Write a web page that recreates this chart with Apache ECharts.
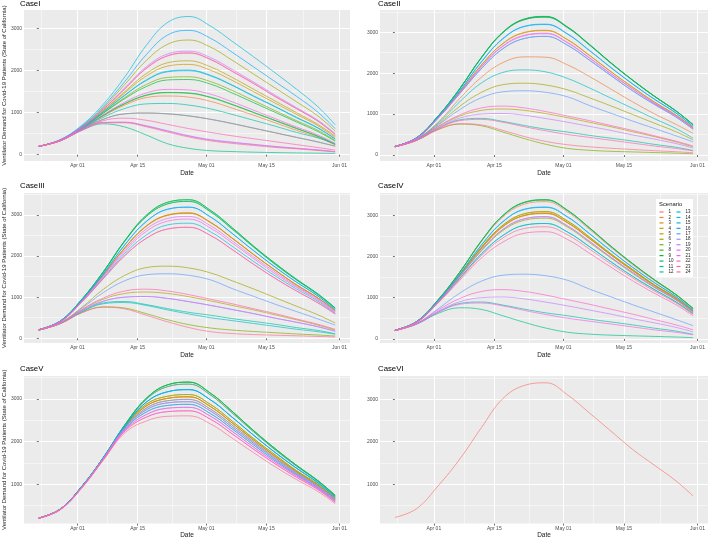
<!DOCTYPE html>
<html>
<head>
<meta charset="utf-8">
<script src="https://cdn.jsdelivr.net/npm/echarts@6/dist/echarts.min.js"></script>
<style>
  html, body { margin: 0; padding: 0; background: #fff; }
  #main { width: 709px; height: 540px; }
</style>
</head>
<body>
<div id="main"></div>
<script>
// sample dates (every 5 days)
const dates = ['2020-03-23', '2020-03-28', '2020-04-02', '2020-04-07', '2020-04-12', '2020-04-17', '2020-04-22',
  '2020-04-27', '2020-05-02', '2020-05-07', '2020-05-12', '2020-05-17', '2020-05-22', '2020-05-27', '2020-05-31']
const caseNames = ['CaseI', 'CaseII', 'CaseIII', 'CaseIV', 'CaseV', 'CaseVI']
const scenarios = ['1', '2', '3', '4', '5', '6', '7', '8', '9', '10', '11', '12',
  '13', '14', '15', '16', '17', '18', '19', '20', '21', '22', '23', '24']
const xTickDates = ['2020-04-01', '2020-04-15', '2020-05-01', '2020-05-15', '2020-06-01']
const xTickLabels = ['Apr 01', 'Apr 15', 'May 01', 'May 15', 'Jun 01']
const xMinorDates = ['2020-03-23T12:00', '2020-04-08', '2020-04-23', '2020-05-08', '2020-05-23T12:00']
const yTicks = [0, 1000, 2000, 3000]
const yMinorTicks = [500, 1500, 2500, 3500]
const yMin = [-150, -147, -115, -100, 80, 70]
const yMax = [3445, 3545, 3535, 3540, 3533, 3550]

// curves shared by cases II - IV (peak value in the name)
const hi3389 = [210, 421, 952, 1624, 2386, 3008, 3328, 3389, 3128, 2707, 2256, 1835, 1444, 1083, 742]
const hi3380 = [210, 420, 950, 1620, 2380, 3000, 3320, 3380, 3120, 2700, 2250, 1830, 1440, 1080, 740]
const hi3370 = [210, 420, 948, 1617, 2374, 2990, 3310, 3370, 3110, 2692, 2243, 1825, 1436, 1077, 738]
const hi3330 = [210, 420, 945, 1610, 2360, 2960, 3270, 3330, 3075, 2660, 2220, 1800, 1420, 1065, 730]
const hi3200 = [210, 415, 930, 1570, 2280, 2850, 3150, 3200, 2960, 2560, 2140, 1740, 1370, 1030, 700]
const hi3190 = [210, 415, 928, 1567, 2272, 2840, 3140, 3190, 2950, 2552, 2133, 1734, 1366, 1027, 697]
const hi3088 = [210, 412, 924, 1548, 2224, 2760, 3038, 3088, 2858, 2471, 2063, 1684, 1316, 997, 678]
const hi3050 = [210, 410, 920, 1540, 2200, 2730, 3000, 3050, 2820, 2440, 2040, 1660, 1300, 980, 670]
const hi3040 = [210, 410, 918, 1537, 2195, 2722, 2990, 3040, 2811, 2433, 2034, 1655, 1296, 977, 668]
const hi2980 = [210, 410, 910, 1520, 2160, 2670, 2930, 2980, 2750, 2380, 1990, 1620, 1270, 960, 650]
const hi2965 = [210, 409, 908, 1516, 2152, 2657, 2915, 2965, 2737, 2369, 1980, 1612, 1264, 955, 647]
const hi2930 = [205, 408, 905, 1510, 2130, 2630, 2880, 2930, 2710, 2340, 1960, 1590, 1250, 945, 640]
const hi2900 = [205, 405, 900, 1500, 2110, 2600, 2850, 2900, 2680, 2320, 1940, 1570, 1240, 930, 630]
const hi2800 = [205, 400, 890, 1470, 2060, 2510, 2760, 2800, 2590, 2240, 1870, 1520, 1200, 900, 610]
const hi2720 = [205, 400, 882, 1455, 2020, 2450, 2680, 2720, 2520, 2180, 1820, 1480, 1165, 875, 595]
const hi2700 = [205, 400, 880, 1450, 2010, 2430, 2660, 2700, 2500, 2160, 1800, 1460, 1150, 860, 590]
const hi2600 = [200, 395, 870, 1420, 1960, 2350, 2565, 2600, 2410, 2080, 1740, 1410, 1110, 830, 560]
const md2400 = [205, 390, 800, 1380, 1900, 2260, 2400, 2390, 2200, 1920, 1610, 1300, 1010, 750, 530]
const md2080 = [205, 385, 780, 1300, 1760, 2020, 2080, 2030, 1870, 1640, 1390, 1140, 890, 650, 410]
const md1750 = [205, 380, 750, 1190, 1530, 1720, 1755, 1710, 1590, 1400, 1200, 990, 780, 570, 370]
const md1570 = [205, 375, 730, 1110, 1400, 1545, 1570, 1530, 1420, 1210, 1020, 830, 650, 470, 320]
const lo1200 = [200, 370, 700, 980, 1150, 1195, 1150, 1060, 950, 840, 720, 600, 470, 340, 220]
const lo1125 = [200, 370, 690, 950, 1090, 1125, 1090, 1010, 910, 800, 690, 570, 450, 320, 200]
const lo1020 = [200, 365, 670, 900, 1000, 1015, 970, 890, 800, 700, 600, 490, 390, 280, 170]
const lo900 = [200, 360, 650, 860, 895, 820, 720, 630, 560, 480, 410, 340, 260, 190, 110]
const lo870 = [200, 360, 645, 840, 870, 800, 690, 590, 500, 430, 360, 290, 220, 160, 100]
const lo765 = [200, 355, 625, 765, 735, 600, 450, 330, 250, 200, 165, 135, 105, 80, 55]
const lo760 = [200, 355, 620, 755, 715, 560, 400, 260, 160, 115, 90, 75, 60, 45, 30]

// case V curves (bunch together until mid April)
const v3389 = [210, 421, 952, 1624, 2386, 3008, 3328, 3389, 3128, 2707, 2256, 1835, 1444, 1083, 742]
const v3343 = [210, 420, 950, 1620, 2378, 2985, 3285, 3343, 3086, 2670, 2228, 1808, 1425, 1069, 725]
const v3214 = [210, 418, 946, 1617, 2360, 2920, 3165, 3214, 2972, 2570, 2148, 1746, 1376, 1034, 703]
const v3099 = [210, 417, 943, 1613, 2345, 2870, 3060, 3099, 2865, 2480, 2070, 1690, 1320, 1000, 680]
const v3046 = [210, 416, 940, 1610, 2335, 2830, 3010, 3046, 2815, 2435, 2035, 1655, 1298, 978, 668]
const v2985 = [208, 415, 938, 1605, 2320, 2780, 2955, 2985, 2755, 2385, 1995, 1620, 1272, 960, 652]
const v2931 = [208, 415, 935, 1600, 2310, 2740, 2905, 2931, 2710, 2340, 1960, 1590, 1250, 945, 640]
const v2870 = [208, 412, 930, 1595, 2290, 2690, 2845, 2870, 2650, 2295, 1920, 1555, 1225, 920, 620]
const v2800 = [205, 410, 925, 1585, 2265, 2630, 2780, 2800, 2590, 2240, 1870, 1520, 1200, 900, 600]
const v2718 = [205, 410, 920, 1575, 2240, 2570, 2700, 2718, 2520, 2180, 1820, 1480, 1165, 875, 580]
const v2603 = [205, 405, 910, 1560, 2200, 2480, 2590, 2600, 2410, 2080, 1740, 1410, 1110, 830, 545]

// case I (slower rise), one row per scenario 1..24
const caseI = [
  [200, 350, 655, 1080, 1570, 2060, 2360, 2425, 2270, 1990, 1700, 1390, 1100, 800, 480],
  [200, 340, 615, 920, 1180, 1360, 1397, 1370, 1270, 1110, 940, 760, 580, 410, 230],
  [200, 335, 600, 840, 970, 990, 970, 920, 840, 740, 630, 520, 410, 300, 200],
  [200, 345, 645, 1040, 1470, 1870, 2110, 2150, 2010, 1770, 1500, 1230, 960, 690, 410],
  [200, 345, 650, 1050, 1500, 1930, 2190, 2235, 2090, 1840, 1560, 1280, 1000, 720, 440],
  [200, 350, 670, 1120, 1670, 2240, 2630, 2730, 2560, 2250, 1920, 1590, 1260, 920, 560],
  [200, 340, 635, 995, 1360, 1670, 1840, 1855, 1740, 1530, 1290, 1050, 810, 580, 340],
  [200, 340, 620, 935, 1210, 1410, 1475, 1460, 1360, 1190, 1000, 810, 620, 435, 245],
  [200, 340, 630, 985, 1335, 1620, 1780, 1790, 1680, 1470, 1240, 1010, 780, 550, 320],
  [200, 340, 620, 940, 1220, 1420, 1484, 1470, 1370, 1200, 1010, 820, 630, 440, 250],
  [200, 330, 580, 735, 660, 470, 260, 150, 95, 75, 60, 50, 42, 36, 30],
  [200, 335, 610, 890, 1100, 1210, 1220, 1180, 1090, 960, 820, 680, 530, 400, 260],
  [200, 345, 640, 1020, 1420, 1780, 1990, 2015, 1890, 1660, 1400, 1150, 890, 640, 380],
  [200, 360, 700, 1200, 1850, 2600, 3150, 3290, 3060, 2700, 2330, 1950, 1560, 1140, 710],
  [200, 345, 638, 1015, 1410, 1765, 1975, 2000, 1875, 1650, 1390, 1140, 880, 630, 370],
  [200, 355, 680, 1150, 1740, 2380, 2850, 2960, 2770, 2440, 2090, 1740, 1390, 1010, 620],
  [200, 335, 600, 845, 975, 995, 975, 925, 845, 745, 635, 525, 415, 305, 205],
  [200, 330, 585, 765, 770, 680, 560, 440, 350, 290, 240, 190, 150, 110, 70],
  [200, 350, 660, 1090, 1590, 2090, 2400, 2465, 2310, 2030, 1730, 1420, 1120, 820, 500],
  [200, 330, 585, 768, 775, 690, 570, 450, 360, 300, 248, 198, 155, 115, 75],
  [200, 340, 625, 950, 1250, 1470, 1555, 1540, 1440, 1260, 1060, 860, 660, 470, 270],
  [200, 350, 655, 1078, 1565, 2050, 2350, 2418, 2262, 1982, 1692, 1384, 1094, 796, 476],
  [200, 330, 590, 810, 870, 820, 720, 620, 530, 450, 380, 310, 240, 170, 110],
  [200, 330, 583, 760, 760, 665, 540, 420, 330, 270, 220, 175, 140, 100, 65]
]
const caseII = [hi3370, md2400, hi3050, hi3040, lo1125, md1750, lo760, hi3380, hi3389, hi3380, hi3370, lo900,
  md2080, hi2900, hi3200, hi3190, md1570, hi2900, lo1020, hi2980, hi2965, lo1200, lo870, lo765]
const caseIII = [hi2700, hi3050, hi3040, hi3050, lo1125, md1750, lo765, hi3330, hi3370, hi3370, hi3330, lo900,
  lo870, hi2800, hi3190, hi3190, md1570, lo1020, lo1020, hi2965, hi2900, hi2700, lo1200, lo760]
const caseIV = [hi3330, hi3050, hi3040, hi3050, hi3088, hi3088, hi2930, hi3370, hi3380, hi3370, lo760, lo900,
  hi2800, hi2800, hi3190, hi3200, md1570, hi2965, lo1020, hi2965, lo870, lo1200, hi2600, hi2720]
const caseV = [v3343, v3046, v3046, v3046, v3099, v3099, v2985, v3389, v3389, v3389, v3343, v2870,
  v2931, v3214, v3214, v3214, v2870, v2985, v2800, v2931, v2800, v2718, v2718, v2603]
const caseVI = [215, 420, 960, 1590, 2330, 3020, 3330, 3390, 3100, 2680, 2250, 1820, 1450, 1080, 720]

// ggplot hue palette (hcl, c=100, l=65)
function hcl(h, c, l) {
  const hr = h * Math.PI / 180
  const U = c * Math.cos(hr), V = c * Math.sin(hr)
  const Xn = 95.047, Yn = 100, Zn = 108.883
  const den = Xn + 15 * Yn + 3 * Zn
  const un = 4 * Xn / den, vn = 9 * Yn / den
  const Y = Yn * Math.pow((l + 16) / 116, 3)
  const up = U / (13 * l) + un, vp = V / (13 * l) + vn
  const X = Y * 9 * up / (4 * vp)
  const Z = Y * (12 - 3 * up - 20 * vp) / (4 * vp)
  const x = X / 100, y = Y / 100, z = Z / 100
  const lin = [3.240479 * x - 1.537150 * y - 0.498535 * z,
    -0.969256 * x + 1.875992 * y + 0.041556 * z,
    0.055648 * x - 0.204043 * y + 1.057311 * z]
  return '#' + lin.map(v => {
    v = v <= 0.0031308 ? 12.92 * v : 1.055 * Math.pow(v, 1 / 2.4) - 0.055
    v = Math.max(0, Math.min(1, v))
    return Math.round(v * 255).toString(16).padStart(2, '0')
  }).join('')
}
const colors = scenarios.map((s, i) => hcl(15 + 15 * i, 100, 65))

// x is counted in days from the first date
const DAY = 86400000
const ts = s => Date.parse(s.length === 10 ? s + 'T00:00:00Z' : s + ':00Z')
const day = s => (ts(s) - ts(dates[0])) / DAY
const xDays = dates.map(day)
const xMin = xDays[0] - 3.45
const xMax = xDays[xDays.length - 1] + 3.45
const xMajor = xTickDates.map(day)
const xMinor = xMinorDates.map(day)

const FONT = 'Liberation Sans, Arial, sans-serif'
const gridLeft = [21, 380], gridWidth = [329, 328]
const gridTop = [10, 193, 376], gridHeight = [151, 150, 151]
const titleLeft = [20, 378], titleTop = [0, 182, 365]
const yTitle = 'Ventilator Demand for Covid-19 Patients (State of California)'

const grids = [], xAxes = [], yAxes = [], titles = [], series = []
caseNames.forEach((name, i) => {
  const col = i % 2, row = Math.floor(i / 2)
  grids.push({
    left: gridLeft[col], top: gridTop[row], width: gridWidth[col], height: gridHeight[row],
    show: true, backgroundColor: '#EBEBEB', borderWidth: 0
  })
  titles.push({
    text: name, left: titleLeft[col], top: titleTop[row], padding: 0,
    textStyle: { fontSize: 7.8, fontWeight: 'normal', color: '#000', fontFamily: FONT }
  })
  const yT = yTicks.filter(v => v >= yMin[i] && v <= yMax[i])
  const yM = yMinorTicks.filter(v => v >= yMin[i] && v <= yMax[i])
  xAxes.push({
    type: 'value', gridIndex: i, min: xMin, max: xMax, z: 1,
    name: 'Date', nameLocation: 'middle', nameGap: 7,
    nameTextStyle: { fontSize: 6.5, color: '#1a1a1a', fontFamily: FONT },
    axisLine: { show: false },
    axisTick: { show: true, length: 2, customValues: xMajor, lineStyle: { color: '#333', width: 0.7 } },
    axisLabel: {
      customValues: xMajor, fontSize: 5, color: '#4d4d4d', margin: 2.5, fontFamily: FONT,
      formatter: v => {
        let k = 0
        xMajor.forEach((t, j) => { if (Math.abs(t - v) < Math.abs(xMajor[k] - v)) k = j })
        return xTickLabels[k]
      }
    },
    splitLine: { show: true, lineStyle: { color: '#fff', width: 1 } }
  })
  yAxes.push({
    type: 'value', gridIndex: i, min: yMin[i], max: yMax[i], z: 1,
    name: col === 0 ? yTitle : '', nameLocation: 'middle', nameGap: 12,
    nameTextStyle: { fontSize: 6, color: '#1a1a1a', fontFamily: FONT },
    axisLine: { show: false },
    axisTick: { show: true, length: 2, customValues: yT, lineStyle: { color: '#333', width: 0.7 } },
    axisLabel: {
      customValues: yT, fontSize: 5, color: '#4d4d4d', margin: 2, fontFamily: FONT,
      formatter: v => String(v)
    },
    splitLine: { show: true, lineStyle: { color: '#fff', width: 1 } }
  })
  // minor grid lines on twin axes
  xAxes.push({
    type: 'value', gridIndex: i, min: xMin, max: xMax, z: 1, position: 'top',
    axisLine: { show: false }, axisLabel: { show: false },
    axisTick: { show: false, customValues: xMinor },
    splitLine: { show: true, lineStyle: { color: '#fff', width: 0.5 } }
  })
  yAxes.push({
    type: 'value', gridIndex: i, min: yMin[i], max: yMax[i], z: 1, position: 'right',
    axisLine: { show: false }, axisLabel: { show: false },
    axisTick: { show: false, customValues: yM },
    splitLine: { show: true, lineStyle: { color: '#fff', width: 0.5 } }
  })
})

const lineBase = { type: 'line', showSymbol: false, smooth: 0.4, z: 2 }
const allCases = [caseI, caseII, caseIII, caseIV, caseV]
allCases.forEach((rows, c) => {
  rows.forEach((vals, s) => {
    series.push(Object.assign({}, lineBase, {
      name: scenarios[s], xAxisIndex: 2 * c, yAxisIndex: 2 * c,
      data: xDays.map((d, k) => [d, vals[k]]),
      color: colors[s], lineStyle: { width: 0.75, color: colors[s], opacity: 0.9 }
    }))
  })
})
series.push(Object.assign({}, lineBase, {
  name: scenarios[0], xAxisIndex: 10, yAxisIndex: 10,
  data: xDays.map((d, k) => [d, caseVI[k]]),
  color: colors[0], lineStyle: { width: 0.75, color: colors[0], opacity: 0.9 }
}))

const legendBase = {
  orient: 'vertical', top: 209.5, icon: 'rect', itemWidth: 4, itemHeight: 1.2, itemGap: 0.45,
  padding: 0, selectedMode: false, z: 20,
  textStyle: { fontSize: 4.5, lineHeight: 5, color: '#1a1a1a', fontFamily: FONT }
}

const chart = echarts.init(document.getElementById('main'))
chart.setOption({
  animation: false,
  backgroundColor: '#fff',
  title: titles,
  grid: grids,
  xAxis: xAxes,
  yAxis: yAxes,
  legend: [
    Object.assign({}, legendBase, { left: 659.5, data: scenarios.slice(0, 12) }),
    Object.assign({}, legendBase, { left: 676.5, data: scenarios.slice(12) })
  ],
  graphic: [
    { type: 'rect', left: 656, top: 199, z: 10, shape: { width: 37, height: 78 }, style: { fill: '#fff' } },
    { type: 'text', left: 659, top: 201, z: 21,
      style: { text: 'Scenario', fontSize: 5.9, fill: '#1a1a1a', fontFamily: FONT } }
  ],
  series: series
})
</script>
</body>
</html>
